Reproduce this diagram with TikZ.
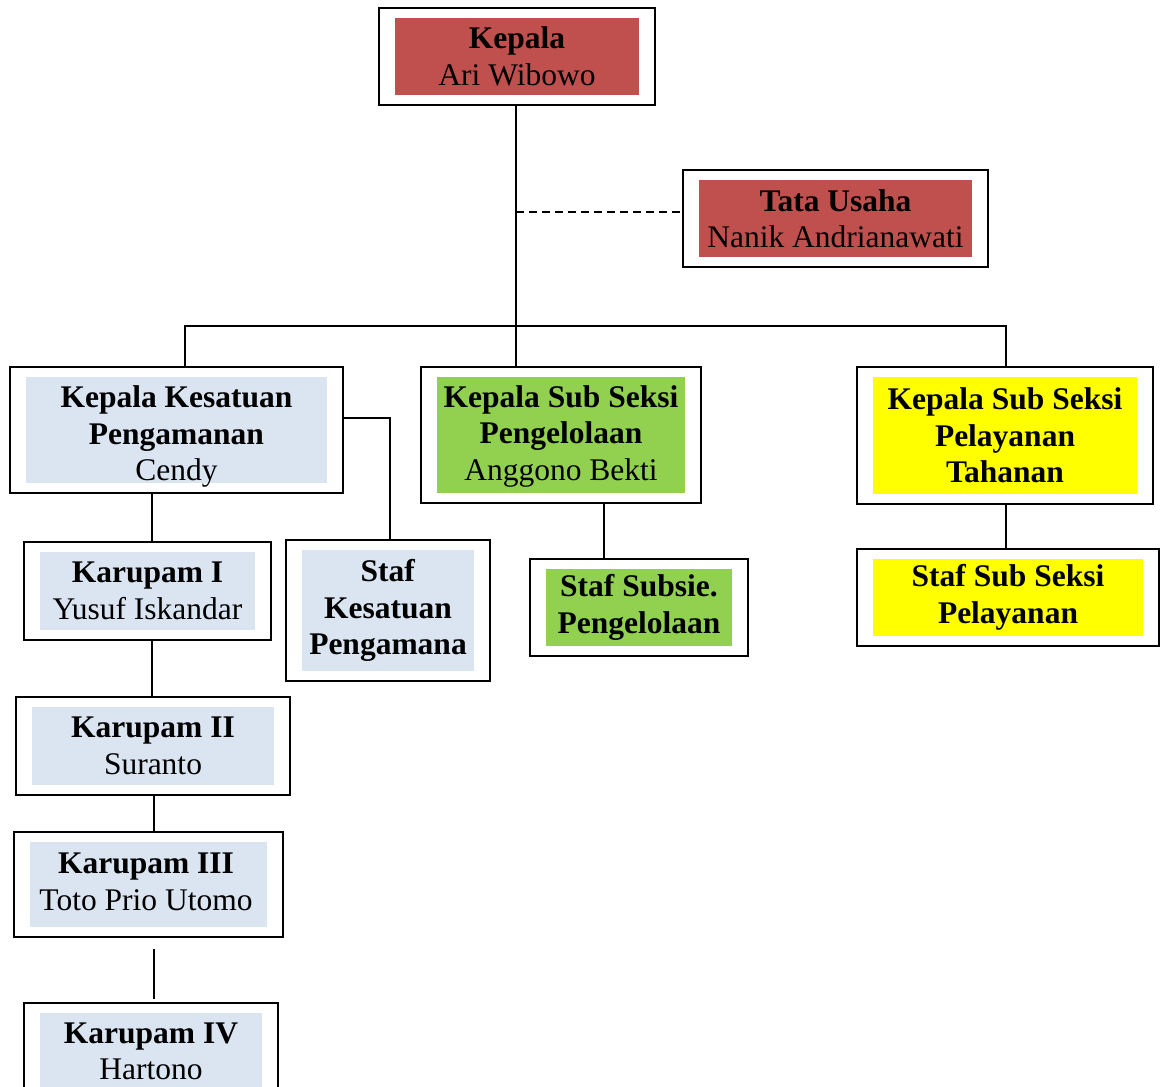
\documentclass[tikz,border=0pt]{standalone}
\usepackage{fontspec}
\setmainfont{Liberation Serif}
\definecolor{cred}{HTML}{C0504D}
\definecolor{cblue}{HTML}{DBE5F1}
\definecolor{cgreen}{HTML}{92D050}
\definecolor{cyel}{HTML}{FFFF00}
\begin{document}
\begin{tikzpicture}[x=1pt,y=-1pt,
  orgbox/.style={draw, line width=2pt, inner sep=0pt, align=center,
    font=\fontsize{31.5}{36.5}\selectfont,
    path picture={\fill[#1] ([xshift=16pt,yshift=10pt]path picture bounding box.south west) rectangle ([xshift=-16pt,yshift=-10pt]path picture bounding box.north east);}},
  txt/.style={inner sep=0pt, align=center, font=\fontsize{31.5}{36.5}\selectfont},
  wire/.style={line width=1.6pt}]
\useasboundingbox[fill=white] (0,0) rectangle (1166,1086);

\node[orgbox=cred, minimum width=276pt, minimum height=97pt] (kepala) at (517,56.5) {\textbf{Kepala}\\Ari Wibowo};
\node[orgbox=cred, minimum width=305pt, minimum height=97pt] (tata) at (835.5,218.5) {\textbf{Tata Usaha}\\Nanik Andrianawati};
\node[orgbox=cblue, minimum width=333pt, minimum height=126pt] (kkp) at (176.5,430) {};
\node[txt] (kkptext) at (176.5,436.5) {\textbf{Kepala Kesatuan}\\\textbf{Pengamanan}\\Cendy};
\node[orgbox=cgreen, minimum width=280pt, minimum height=136pt] (pengelolaan) at (561,435) {};
\node[txt] (pengtext) at (561,436) {\textbf{Kepala Sub Seksi}\\\textbf{Pengelolaan}\\Anggono Bekti};
\node[orgbox=cyel, minimum width=296pt, minimum height=137pt] (pelayanan) at (1005,435.5) {\textbf{Kepala Sub Seksi}\\\textbf{Pelayanan}\\\textbf{Tahanan}};
\node[orgbox=cblue, minimum width=247pt, minimum height=98pt] (k1) at (147.5,591) {\textbf{Karupam I}\\Yusuf Iskandar};
\node[orgbox=cblue, minimum width=204pt, minimum height=141pt] (staf) at (388,610.5) {\textbf{Staf}\\\textbf{Kesatuan}\\\textbf{Pengamana}};
\node[orgbox=cgreen, minimum width=218pt, minimum height=97pt] (stafsub) at (639,607.5) {\textbf{Staf Subsie.}\\\textbf{Pengelolaan}};
\node[orgbox=cyel, minimum width=302pt, minimum height=97pt] (stafpel) at (1008,597.5) {\textbf{Staf Sub Seksi}\\\textbf{Pelayanan}};
\node[orgbox=cblue, minimum width=274pt, minimum height=98pt] (k2) at (153,746) {\textbf{Karupam II}\\Suranto};
\node[orgbox=cblue, minimum width=269pt, minimum height=105pt] (k3) at (148.5,884.5) {};
\node[txt] (k3text) at (146,882) {\textbf{Karupam III}\\Toto Prio Utomo};
\node[orgbox=cblue, minimum width=254pt, minimum height=97pt] (k4) at (151,1051.5) {\textbf{Karupam IV}\\Hartono};

\coordinate (j) at (516,326);
\coordinate (busL) at (185,326);
\coordinate (busR) at (1006,326);
\coordinate (sk) at (390,418);
\coordinate (dash) at (516,212);
\coordinate (cx1) at (152,0);
\coordinate (cx2) at (154,0);
\coordinate (cx3) at (604,0);

\draw[wire] (kepala.south -| j) -- (j) -- (j |- pengelolaan.north);
\draw[wire, dash pattern=on 8pt off 5pt] (dash) -- (dash -| tata.west);
\draw[wire] (kkp.north -| busL) -- (busL) -- (busR) -- (busR |- pelayanan.north);
\draw[wire] (sk -| kkp.east) -- (sk) -- (sk |- staf.north);
\draw[wire] (kkp.south -| cx1) -- (k1.north -| cx1);
\draw[wire] (k1.south -| cx1) -- (k2.north -| cx1);
\draw[wire] (k2.south -| cx2) -- (k3.north -| cx2);
\draw[wire] ([yshift=-11pt]k3.south -| cx2) -- ([yshift=3pt]k4.north -| cx2);
\draw[wire] (pengelolaan.south -| cx3) -- (stafsub.north -| cx3);
\draw[wire] (pelayanan.south -| busR) -- (stafpel.north -| busR);
\end{tikzpicture}
\end{document}
